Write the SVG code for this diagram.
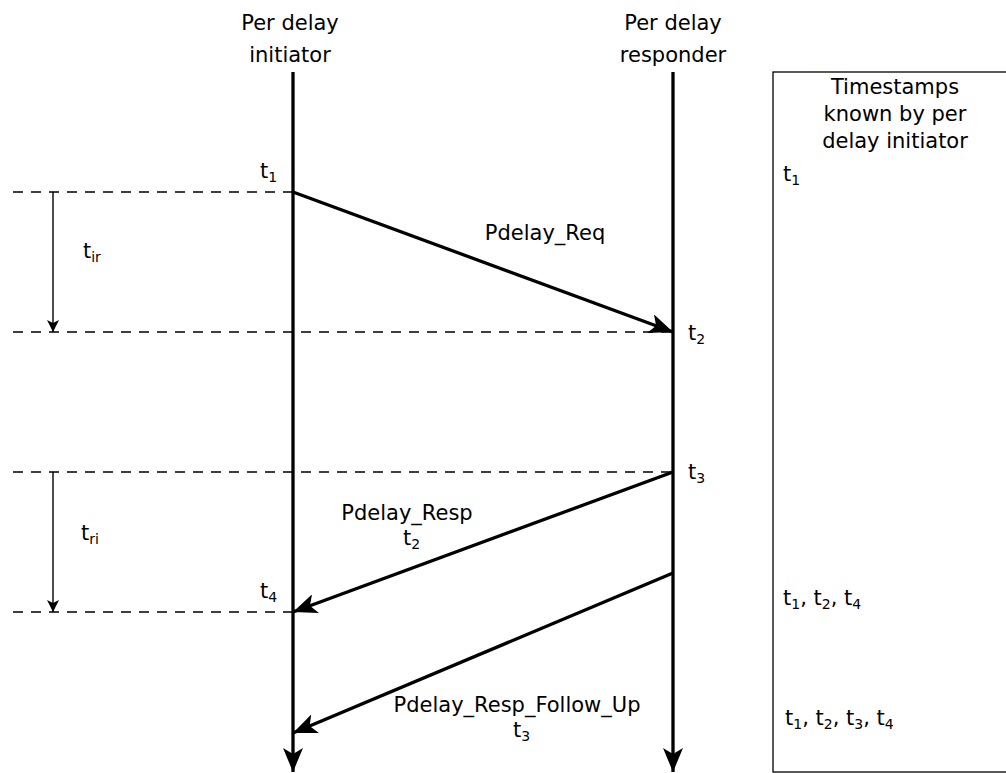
<svg xmlns="http://www.w3.org/2000/svg" width="1006" height="773" viewBox="0 0 1006 773">
<style>
text{font-family:"DejaVu Sans",sans-serif;font-size:21px;fill:#000}
.s{font-size:14px}
.life{stroke:#000;stroke-width:3.3;fill:none}
.msg{stroke:#000;stroke-width:3.3;fill:none}
.dash{stroke:#000;stroke-width:1.4;stroke-dasharray:10,8;fill:none}
.dur{stroke:#000;stroke-width:1.4;fill:none}
</style>
<defs>
<marker id="ah2" viewBox="0 0 10 10" markerUnits="userSpaceOnUse" markerWidth="12" markerHeight="12" refX="10" refY="5" orient="auto">
<path d="M0,0 L10,5 L0,10 L2.5,5 Z" fill="#000"/>
</marker>
<marker id="big" viewBox="0 0 24 20" markerUnits="userSpaceOnUse" markerWidth="24" markerHeight="20" refX="24" refY="10" orient="auto">
<path d="M0,0 L24,10 L0,20 L6,10 Z" fill="#000"/>
</marker>
</defs>
<g id="initiator">
<text x="290" y="30" text-anchor="middle">Per delay</text>
<text x="290" y="62" text-anchor="middle">initiator</text>
<line class="life" x1="293" y1="72" x2="293" y2="772" marker-end="url(#big)"/>
</g>
<g id="responder">
<text x="673" y="30" text-anchor="middle">Per delay</text>
<text x="673" y="62" text-anchor="middle">responder</text>
<line class="life" x1="673" y1="72" x2="673" y2="772" marker-end="url(#big)"/>
</g>
<g id="timestamps">
<rect x="773" y="72" width="240" height="700" fill="none" stroke="#000" stroke-width="1.3"/>
<text x="895" y="94" text-anchor="middle">Timestamps</text>
<text x="895" y="121" text-anchor="middle">known by per</text>
<text x="895" y="148" text-anchor="middle">delay initiator</text>
<text x="783" y="181" font-size="18">t<tspan class="s" dy="4">1</tspan></text>
<text x="783" y="605">t<tspan class="s" dy="4">1</tspan><tspan dy="-4">, t</tspan><tspan class="s" dy="4">2</tspan><tspan dy="-4">, t</tspan><tspan class="s" dy="4">4</tspan></text>
<text x="785" y="725">t<tspan class="s" dy="4">1</tspan><tspan dy="-4">, t</tspan><tspan class="s" dy="4">2</tspan><tspan dy="-4">, t</tspan><tspan class="s" dy="4">3</tspan><tspan dy="-4">, t</tspan><tspan class="s" dy="4">4</tspan></text>
</g>
<g id="labels">
<text x="260" y="178">t<tspan class="s" dy="4">1</tspan></text>
<text x="688" y="340">t<tspan class="s" dy="4">2</tspan></text>
<text x="688" y="479">t<tspan class="s" dy="4">3</tspan></text>
<text x="260" y="598">t<tspan class="s" dy="4">4</tspan></text>
<text x="83" y="258">t<tspan class="s" dy="4">ir</tspan></text>
<text x="81" y="540">t<tspan class="s" dy="4">ri</tspan></text>
<text x="545" y="240" text-anchor="middle">Pdelay_Req</text>
<text x="407" y="520" text-anchor="middle">Pdelay_Resp</text>
<text x="403" y="545">t<tspan class="s" dy="4">2</tspan></text>
<text x="517" y="712" text-anchor="middle">Pdelay_Resp_Follow_Up</text>
<text x="513" y="737">t<tspan class="s" dy="4">3</tspan></text>
</g>
<g id="connectors">
<line class="dash" x1="13" y1="192" x2="293" y2="192"/>
<line class="dash" x1="13" y1="332" x2="673" y2="332"/>
<line class="dash" x1="13" y1="472" x2="673" y2="472"/>
<line class="dash" x1="13" y1="612" x2="293" y2="612"/>
<line class="dur" x1="53" y1="192" x2="53" y2="332" marker-end="url(#ah2)"/>
<line class="dur" x1="53" y1="472" x2="53" y2="612" marker-end="url(#ah2)"/>
<line class="msg" x1="293" y1="192" x2="673" y2="332" marker-end="url(#big)"/>
<line class="msg" x1="673" y1="472" x2="293" y2="612" marker-end="url(#big)"/>
<line class="msg" x1="673" y1="573" x2="293" y2="733" marker-end="url(#big)"/>
</g>
</svg>
